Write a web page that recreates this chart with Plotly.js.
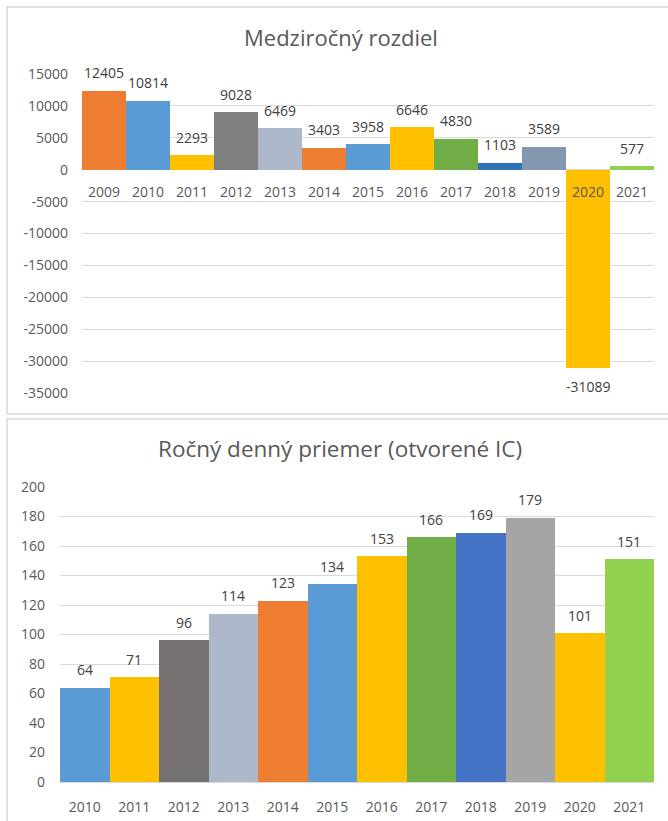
<!DOCTYPE html>
<html>
<head>
<meta charset="utf-8">
<script src="https://cdn.plot.ly/plotly-3.0.1.min.js"></script>
<style>html,body{margin:0;padding:0;background:#fff;}#chart{width:668px;height:821px;}</style>
</head>
<body>
<div id="chart"></div>
<script>
// ---- data ----
const title1 = 'Medziročný rozdiel';
const years1 = ['2009','2010','2011','2012','2013','2014','2015','2016','2017','2018','2019','2020','2021'];
const diff = [12405, 10814, 2293, 9028, 6469, 3403, 3958, 6646, 4830, 1103, 3589, -31089, 577];
const yTicks1 = [15000, 10000, 5000, 0, -5000, -10000, -15000, -20000, -25000, -30000, -35000];

const title2 = 'Ročný denný priemer (otvorené IC)';
const years2 = ['2010','2011','2012','2013','2014','2015','2016','2017','2018','2019','2020','2021'];
const avg = [64, 71, 96, 114, 123, 134, 153, 166, 169, 179, 101, 151];
const yTicks2 = [0, 20, 40, 60, 80, 100, 120, 140, 160, 180, 200];

// ---- styles ----
const colors1 = ['#ED7D31','#5B9BD5','#FFC000','#7F7F7F','#ADB9CA','#ED7D31','#5B9BD5','#FFC000','#70AD47','#2E75B6','#8497B0','#FFC000','#92D050'];
const colors2 = ['#5B9BD5','#FFC000','#767171','#ADB9CA','#ED7D31','#5B9BD5','#FFC000','#70AD47','#4472C4','#A5A5A5','#FFC000','#92D050'];

const W = 668, H = 821;
const FONT = 'Open Sans, Noto Sans, sans-serif';
const tickFont = {family: FONT, size: 14, color: '#595959'};
const labelFont = {family: FONT, size: 14, color: '#404040'};
const grid = '#D9D9D9';

const px = v => v / W;
const py = v => 1 - v / H;

const y1Range = [-35000, 15000];
const y1Domain = [py(393), py(74)];
const zeroPos = y1Domain[0] + (0 - y1Range[0]) / (y1Range[1] - y1Range[0]) * (y1Domain[1] - y1Domain[0]);

const traces = [
  {type: 'bar', x: years1, y: diff, xaxis: 'x', yaxis: 'y',
   marker: {color: colors1, line: {width: 0}}, hoverinfo: 'skip', showlegend: false},
  {type: 'bar', x: years2, y: avg, xaxis: 'x2', yaxis: 'y2',
   marker: {color: colors2, line: {width: 0}}, hoverinfo: 'skip', showlegend: false}
];

const annotations = [];
years1.forEach((yr, i) => {
  annotations.push({x: i, y: diff[i], xref: 'x', yref: 'y', text: String(diff[i]),
    showarrow: false, yanchor: 'middle', yshift: diff[i] >= 0 ? 18 : -18, font: labelFont});
});
years2.forEach((yr, i) => {
  annotations.push({x: i, y: avg[i], xref: 'x2', yref: 'y2', text: String(avg[i]),
    showarrow: false, yanchor: 'middle', yshift: 18, font: labelFont});
});
annotations.push({x: px(341), y: py(37), xref: 'paper', yref: 'paper', text: title1, showarrow: false,
  xanchor: 'center', yanchor: 'middle', font: {family: FONT, size: 22, color: '#595959'}});
annotations.push({x: px(340), y: py(449), xref: 'paper', yref: 'paper', text: title2, showarrow: false,
  xanchor: 'center', yanchor: 'middle', font: {family: FONT, size: 22.5, color: '#595959'}});

const shapes = [
  {type: 'rect', xref: 'paper', yref: 'paper', x0: px(7), x1: px(680), y0: py(414), y1: py(7),
   line: {color: '#D9D9D9', width: 1.5}, fillcolor: 'rgba(0,0,0,0)'},
  {type: 'rect', xref: 'paper', yref: 'paper', x0: px(7), x1: px(680), y0: py(840), y1: py(419),
   line: {color: '#D9D9D9', width: 1.5}, fillcolor: 'rgba(0,0,0,0)'}
];

const layout = {
  width: W, height: H,
  margin: {l: 0, r: 0, t: 0, b: 0},
  paper_bgcolor: '#fff', plot_bgcolor: 'rgba(0,0,0,0)',
  bargap: 0,
  showlegend: false,
  xaxis: {domain: [px(82), px(654)], anchor: 'free', position: zeroPos, type: 'category',
    range: [-0.5, years1.length - 0.5], autorange: false,
    showgrid: false, showline: false, zeroline: false, ticks: '', ticklabelstandoff: 12,
    tickfont: tickFont, fixedrange: true},
  yaxis: {domain: y1Domain, anchor: 'free', position: px(82), range: y1Range, autorange: false,
    tickvals: yTicks1, ticktext: yTicks1.map(v => String(v)),
    showgrid: true, gridcolor: grid, gridwidth: 1, zeroline: false, showline: false,
    ticks: '', ticklabelstandoff: 14, tickfont: tickFont, fixedrange: true},
  xaxis2: {domain: [px(60), px(654)], anchor: 'y2', type: 'category',
    range: [-0.5, years2.length - 0.5], autorange: false,
    showgrid: false, showline: true, linecolor: grid, linewidth: 1, zeroline: false,
    ticks: '', ticklabelstandoff: 12, tickfont: tickFont, fixedrange: true},
  yaxis2: {domain: [py(782), py(487)], anchor: 'x2', range: [0, 200], autorange: false,
    tickvals: yTicks2, ticktext: yTicks2.map(v => String(v)),
    showgrid: true, gridcolor: grid, gridwidth: 1, zeroline: false, showline: false,
    ticks: '', ticklabelstandoff: 14, tickfont: tickFont, fixedrange: true},
  annotations: annotations,
  shapes: shapes
};

Plotly.newPlot('chart', traces, layout, {displayModeBar: false, staticPlot: true});
</script>
</body>
</html>
